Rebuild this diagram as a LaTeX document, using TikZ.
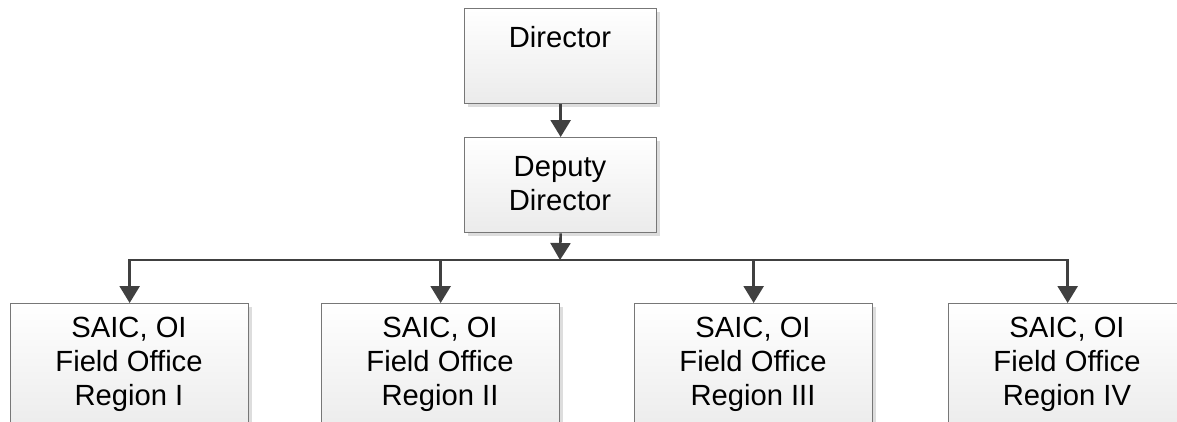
\documentclass[tikz,border=0pt]{standalone}
\usepackage{fontspec}
\setmainfont{Liberation Sans}
\usetikzlibrary{arrows.meta,shadows}
\definecolor{linegray}{HTML}{404040}
\definecolor{boxgray}{HTML}{777777}
\definecolor{boxbot}{HTML}{EBEBEB}
\definecolor{shadowgray}{HTML}{DDDDDD}
\begin{document}
\begin{tikzpicture}[x=1pt,y=-1pt,
  box/.style={draw=boxgray, line width=1.3pt, top color=white, bottom color=boxbot,
    minimum width=192pt, minimum height=95pt, inner sep=0pt, anchor=north west,
    drop shadow={shadow xshift=3.5pt, shadow yshift=-3.5pt, fill=shadowgray, opacity=1}},
  lowbox/.style={box, minimum width=238pt, minimum height=130pt},
  lbl/.style={inner sep=0pt, anchor=base, align=center, text=black,
    font=\fontsize{29.2}{34}\selectfont},
  conn/.style={draw=linegray, line width=2.6pt,
    -{Triangle[length=17pt,width=20pt]}}]
\useasboundingbox (0,0) rectangle (1177,421);
\clip (0,0) rectangle (1177,421);
\node[box] (dir) at (464,8) {};
\node[box] (dep) at (464,137) {};
\node[lowbox] (r1) at (10,303) {};
\node[lowbox] (r2) at (321,303) {};
\node[lowbox] (r3) at (634,303) {};
\node[lowbox] (r4) at (948,303) {};
\node[lbl] (dirt) at (560,47) {Director};
\node[lbl] (dept) at (560,210) {Deputy\\Director};
\node[lbl] (r1t) at (129,405) {SAIC, OI\\Field Office\\Region I};
\node[lbl] (r2t) at (440,405) {SAIC, OI\\Field Office\\Region II};
\node[lbl] (r3t) at (753,405) {SAIC, OI\\Field Office\\Region III};
\node[lbl] (r4t) at (1067,405) {SAIC, OI\\Field Office\\Region IV};
\coordinate (hub) at (560,260);
\draw[conn] (dir.south) -- (dep.north);
\draw[conn] (dep.south) -- (hub);
\draw[conn] (hub) -| (r1.north);
\draw[conn] (hub) -| (r2.north);
\draw[conn] (hub) -| (r3.north);
\draw[conn] (hub) -| (r4.north);
\end{tikzpicture}
\end{document}
